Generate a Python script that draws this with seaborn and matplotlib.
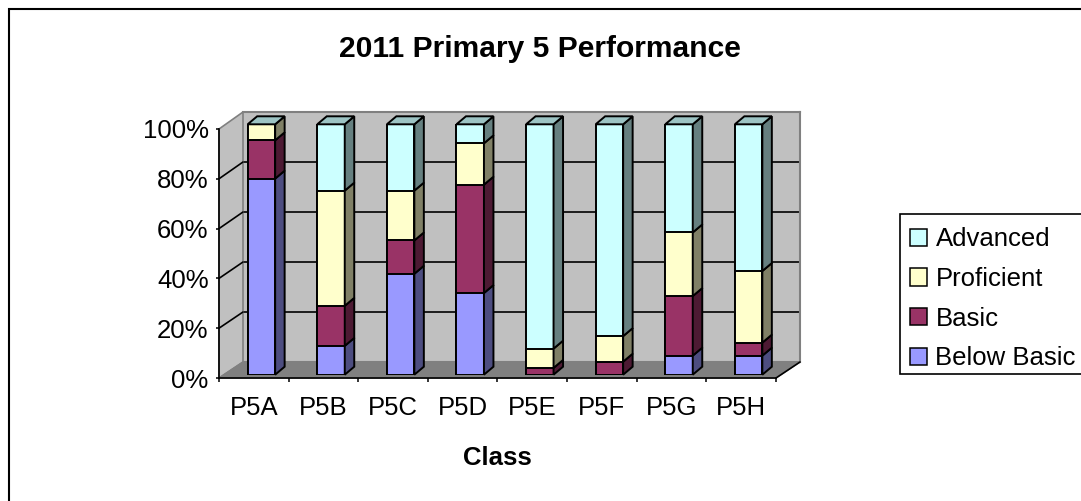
#!/usr/bin/env python3
"""2011 Primary 5 Performance - stacked bars with Excel style 3D look."""

import numpy as np
import matplotlib
matplotlib.use('Agg')
import matplotlib.pyplot as plt
from matplotlib.colors import to_rgb
from matplotlib.lines import Line2D
from matplotlib.patches import Patch, Polygon, Rectangle
import seaborn as sns

classes = ['P5A', 'P5B', 'P5C', 'P5D', 'P5E', 'P5F', 'P5G', 'P5H']
levels = ['Below Basic', 'Basic', 'Proficient', 'Advanced']
below_basic = [78.3, 11.5, 40.3, 32.6, 0, 0, 7.6, 7.6]
basic = [15.3, 16.0, 13.3, 43.3, 2.7, 5.2, 23.8, 5.2]
proficient = [6.4, 46.0, 19.9, 16.5, 7.7, 10.2, 25.4, 28.6]
advanced = [0, 26.5, 26.5, 7.6, 89.6, 84.6, 43.2, 58.6]
level_colors = ['#9999FF', '#993366', '#FFFFCC', '#CCFFFF']
y_ticks = [0, 20, 40, 60, 80, 100]

W, H = 1081, 501
FONT = 18.5
LW = 1.4
BAR_WIDTH = 0.395
DEPTH_X = 9.5 / 69.6   # bar depth in category units
DEPTH_Y = 8 / 2.504    # bar depth in percent units

sns.set_style('white')
plt.rcParams['font.family'] = ['Liberation Sans', 'DejaVu Sans']


def px(x, y):
    return x / W, 1 - y / H


def add_axes(fig, left, right, bottom, top, zorder):
    ax = fig.add_axes([left / W, 1 - bottom / H, (right - left) / W, (bottom - top) / H], zorder=zorder)
    ax.set_xlim(-0.5, 7.5)
    ax.set_ylim(0, 100)
    return ax


def shade(color, k):
    return tuple(c * k for c in to_rgb(color))


fig = plt.figure(figsize=(W / 100, H / 100), dpi=100, facecolor='white')

# outer chart frame, runs off the right and bottom of the picture
fig.add_artist(Rectangle(px(9, 520), 1100 / W, 511 / H, transform=fig.transFigure,
                         fill=False, edgecolor='black', linewidth=1.5, zorder=0))

# back wall with gridlines
ax_back = add_axes(fig, 243, 800, 362, 112, 1)
ax_back.set_facecolor('#C0C0C0')
ax_back.set_xticks([])
ax_back.set_yticks(y_ticks[1:-1])
ax_back.tick_params(left=False, labelleft=False)
ax_back.grid(axis='y', color='black', linewidth=1.2)
for s in ax_back.spines.values():
    s.set_color('#808080')
    s.set_linewidth(1.5)
ax_back.spines['left'].set_visible(False)

# side wall and floor
fig.add_artist(Polygon([px(219, 378), px(219, 129), px(243, 112), px(243, 362)], closed=True,
                       transform=fig.transFigure, facecolor='#C0C0C0', edgecolor='#808080',
                       linewidth=1.2, zorder=1.5))
fig.add_artist(Polygon([px(219, 378), px(776, 378), px(800, 362), px(243, 362)], closed=True,
                       transform=fig.transFigure, facecolor='#808080', edgecolor='#808080',
                       linewidth=1.0, zorder=1.5))
fig.add_artist(Line2D([px(776, 378)[0], px(800, 362)[0]], [px(776, 378)[1], px(800, 362)[1]],
                      transform=fig.transFigure, color='black', linewidth=1.2, zorder=1.6))
for frac in [0.2, 0.4, 0.6, 0.8]:
    y0 = 378 - 249 * frac
    y1 = 362 - 250 * frac
    fig.add_artist(Line2D([px(219, y0)[0], px(243, y1)[0]], [px(219, y0)[1], px(243, y1)[1]],
                          transform=fig.transFigure, color='black', linewidth=1.2, zorder=1.6))

# front plane: axis lines, ticks and labels
ax_front = add_axes(fig, 219, 776, 378, 129, 2)
ax_front.patch.set_visible(False)
sns.despine(ax=ax_front)
for side in ['left', 'bottom']:
    ax_front.spines[side].set_color('black')
    ax_front.spines[side].set_linewidth(1.2)
ax_front.set_xticks(np.arange(-0.5, 8, 1))
ax_front.set_xticklabels([])
ax_front.set_xticks(np.arange(len(classes)), labels=classes, minor=True)
ax_front.set_yticks(y_ticks, labels=[f'{t}%' for t in y_ticks])
ax_front.tick_params(axis='x', which='major', bottom=True, length=3, width=1.1, color='black')
ax_front.tick_params(axis='x', which='minor', bottom=False, labelsize=FONT, pad=11, labelcolor='black')
ax_front.tick_params(axis='y', left=True, length=2.5, width=1.1, color='black', labelsize=FONT, pad=5, labelcolor='black')
ax_front.set_xlabel('Class', fontsize=FONT, fontweight='bold', color='black', labelpad=19)

# bars sit mid depth
ax_bars = add_axes(fig, 226.6, 783.4, 374.7, 124.3, 3)
ax_bars.patch.set_visible(False)

segments = np.array([below_basic, basic, proficient, advanced])
tops = segments.cumsum(axis=0)

# tallest stack first, each shorter one painted over it
for i in range(len(levels) - 1, -1, -1):
    sns.barplot(x=classes, y=tops[i], color=level_colors[i], saturation=1, width=BAR_WIDTH,
                edgecolor='black', linewidth=LW, errorbar=None, ax=ax_bars)
ax_bars.set_xlim(-0.5, 7.5)
ax_bars.set_ylim(0, 100)
ax_bars.axis('off')

# side faces and top faces from the same values
for j in range(len(classes)):
    right = j + BAR_WIDTH / 2
    left = j - BAR_WIDTH / 2
    for i in range(len(levels)):
        y1 = tops[i][j]
        y0 = y1 - segments[i][j]
        if segments[i][j] > 0:
            ax_bars.fill([right, right + DEPTH_X, right + DEPTH_X, right],
                         [y0, y0 + DEPTH_Y, y1 + DEPTH_Y, y1],
                         facecolor=shade(level_colors[i], 0.5), edgecolor='black',
                         linewidth=LW, clip_on=False, zorder=3)
    ax_bars.fill([left, right, right + DEPTH_X, left + DEPTH_X],
                 [100, 100, 100 + DEPTH_Y, 100 + DEPTH_Y],
                 facecolor=shade(level_colors[3], 0.77), edgecolor='black',
                 linewidth=LW, clip_on=False, zorder=3)

# legend box is drawn apart, its text sits a little low in the box
fig.add_artist(Rectangle(px(900, 374), 200 / W, 160 / H, transform=fig.transFigure,
                         facecolor='white', edgecolor='black', linewidth=1.2, zorder=4))
handles = [Patch(facecolor=c, edgecolor='black', linewidth=1.1, label=l)
           for c, l in zip(level_colors[::-1], levels[::-1])]
legend = fig.legend(handles=handles, loc='upper left', bbox_to_anchor=px(900, 217), bbox_transform=fig.transFigure,
                    fontsize=FONT, frameon=False, borderaxespad=0, borderpad=0.4, labelspacing=0.61,
                    handlelength=0.65, handleheight=0.65, handletextpad=0.33, labelcolor='black')
legend.set_zorder(5)

fig.text(540 / W, 1 - 49 / H, '2011 Primary 5 Performance', ha='center', va='center',
         fontsize=21.6, fontweight='bold', color='black')

fig.savefig('out.png', dpi=100)
plt.close(fig)
